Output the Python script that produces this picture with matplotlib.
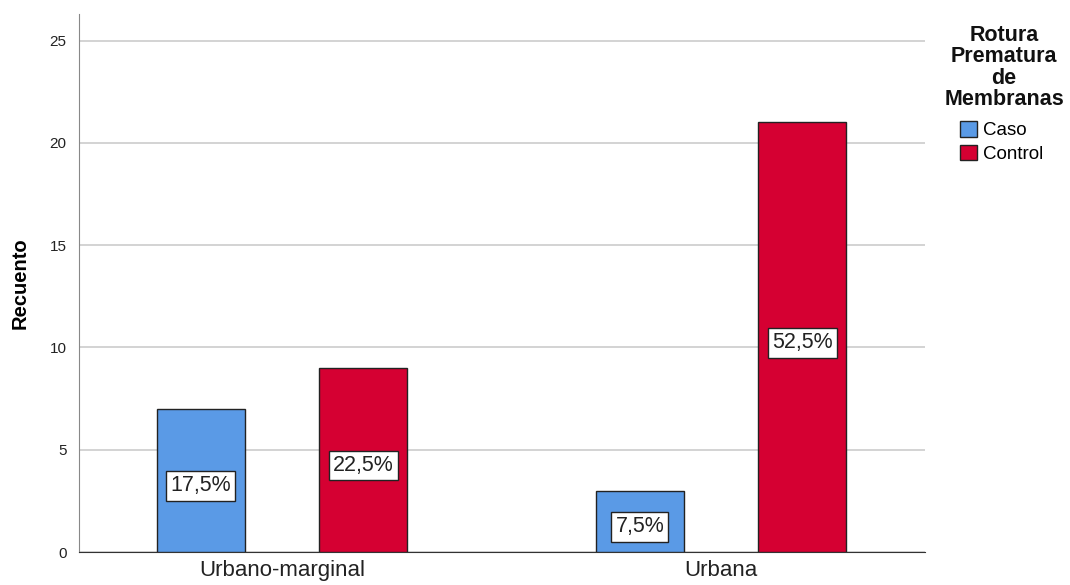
import matplotlib
matplotlib.use("Agg")
import matplotlib.pyplot as plt
import numpy as np
from matplotlib.patches import Patch

plt.rcParams['font.family'] = ['Liberation Sans', 'DejaVu Sans']

categories = ["Urbano-marginal", "Urbana"]
series_names = ["Caso", "Control"]
caso = [7, 3]
control = [9, 21]
caso_pct = ["17,5%", "7,5%"]
control_pct = ["22,5%", "52,5%"]
colors = ["#5a9ae6", "#d50032"]
legend_title = "Rotura\nPrematura\nde\nMembranas"

fig = plt.figure(figsize=(10.7, 5.85), dpi=100)
ax = fig.add_axes([79/1070, 1 - 552/585, (925-79)/1070, (552-14)/585])

x = np.arange(len(categories))
w = 0.2
off = 0.185
for vals, pcts, col, sgn in [(caso, caso_pct, colors[0], -1), (control, control_pct, colors[1], 1)]:
    bars = ax.bar(x + sgn*off, vals, width=w, color=col, edgecolor="#222222", linewidth=1.0, zorder=3)
    for b, v, p in zip(bars, vals, pcts):
        ax.annotate(p, (b.get_x() + b.get_width()/2, v/2), xytext=(0, -4), textcoords="offset points",
                    ha="center", va="center", fontsize=15.5, color="#222222", zorder=4,
                    bbox=dict(boxstyle="square,pad=0.2", fc="white", ec="#222222", lw=1.0))

ax.set_xlim(-0.4624, 1.4647)
ax.set_ylim(0, 26.3)
ax.set_yticks([0, 5, 10, 15, 20, 25])
ax.set_xticks(x)
ax.set_xticklabels(categories, fontsize=16, color="#222222")
ax.tick_params(axis="y", length=0, labelsize=11, pad=9, colors="#222222")
ax.tick_params(axis="x", length=0, pad=6)
ax.yaxis.grid(True, color="#cccccc", linewidth=1.2, zorder=0)
ax.set_axisbelow(True)
for s in ["top", "right"]:
    ax.spines[s].set_visible(False)
ax.spines["left"].set_color("#888888")
ax.spines["bottom"].set_color("#333333")
ax.set_ylabel("Recuento", fontsize=14.5, fontweight="bold", labelpad=14)

fig.text(1004/1070, 1 - 25/585, legend_title, ha="center", va="top", fontsize=15.5,
         fontweight="bold", linespacing=1.02, color="#111111")

handles = [Patch(facecolor=c, edgecolor="#222222", label=n) for c, n in zip(colors, series_names)]
leg = fig.legend(handles=handles, loc="upper left", bbox_to_anchor=(960/1070, 1 - 121/585),
                 frameon=False, fontsize=13.5,
                 handlelength=0.9, handleheight=0.9, handletextpad=0.3, labelspacing=0.3,
                 borderaxespad=0, borderpad=0)

fig.savefig("out.png", dpi=100)
